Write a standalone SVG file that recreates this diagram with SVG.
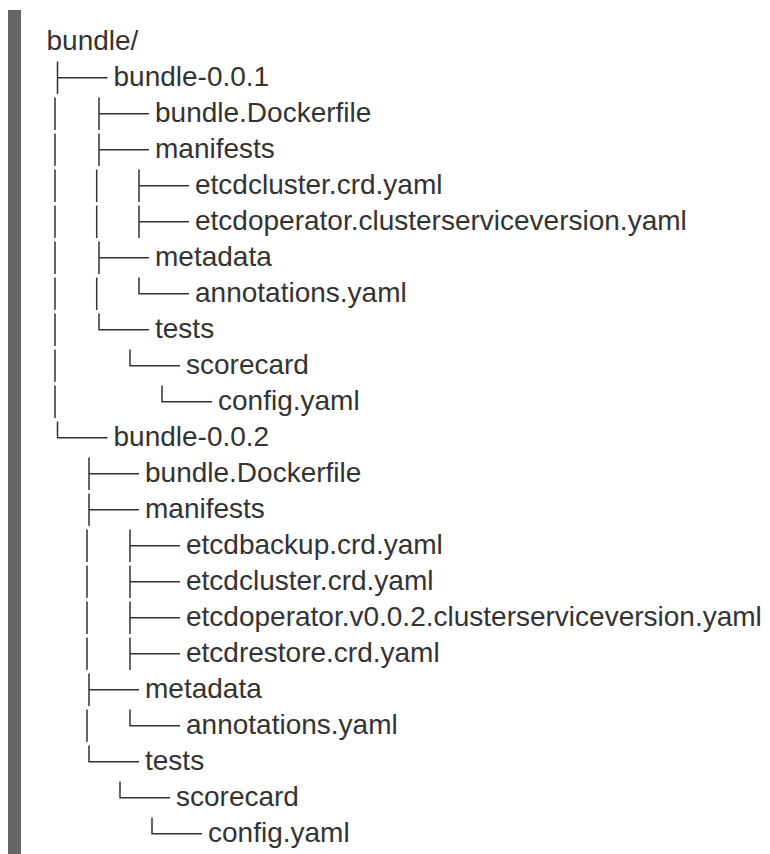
<svg xmlns="http://www.w3.org/2000/svg" width="770" height="854" viewBox="0 0 770 854">
<style>
text{font-family:"Liberation Sans",Arial,Helvetica,sans-serif;font-size:28px;fill:#333}
.c path{fill:none;stroke:#333;stroke-width:1.5}
.c .d{stroke-dasharray:32.5 3.5}
</style>
<rect x="0" y="0" width="770" height="854" fill="#fff"/>
<rect id="bar" x="8" y="10" width="13" height="844" fill="#666"/>
<g id="connectors" class="c">
<path class="d" d="M55 97.5V418"/>
<path class="d" d="M96.7 169.5V238"/>
<path d="M96.7 277.5V310"/>
<path class="d" d="M87 529.5V670"/>
<path d="M87 709.5V742"/>
<path d="M57.5 61.5V94M57.5 77.7H107.5"/>
<path d="M99 97.5V130M99 113.7H149"/>
<path d="M99 133.5V166M99 149.7H149"/>
<path d="M139 169.5V202M139 185.7H189"/>
<path d="M139 205.5V238M139 221.7H189"/>
<path d="M99 241.5V274M99 257.7H149"/>
<path d="M139 277.5V293.7H189"/>
<path d="M99 313.5V329.7H149"/>
<path d="M130 349.5V365.7H180"/>
<path d="M162 385.5V401.7H212"/>
<path d="M57.5 421.5V437.7H107.5"/>
<path d="M89 457.5V490M89 473.7H139"/>
<path d="M89 493.5V526M89 509.7H139"/>
<path d="M130 529.5V562M130 545.7H180"/>
<path d="M130 565.5V598M130 581.7H180"/>
<path d="M130 601.5V634M130 617.7H180"/>
<path d="M130 637.5V670M130 653.7H180"/>
<path d="M89 673.5V706M89 689.7H139"/>
<path d="M130 709.5V725.7H180"/>
<path d="M89 745.5V761.7H139"/>
<path d="M120 781.5V797.7H170"/>
<path d="M152 817.5V833.7H202"/>
</g>
<g id="n0"><text x="46.5" y="50">bundle/</text></g>
<g id="n1"><text x="113.5" y="86">bundle-0.0.1</text></g>
<g id="n2"><text x="155" y="122">bundle.Dockerfile</text></g>
<g id="n3"><text x="155" y="158">manifests</text></g>
<g id="n4"><text x="195" y="194">etcdcluster.crd.yaml</text></g>
<g id="n5"><text x="195" y="230">etcdoperator.clusterserviceversion.yaml</text></g>
<g id="n6"><text x="155" y="266">metadata</text></g>
<g id="n7"><text x="195" y="302">annotations.yaml</text></g>
<g id="n8"><text x="155" y="338">tests</text></g>
<g id="n9"><text x="186" y="374">scorecard</text></g>
<g id="n10"><text x="218" y="410">config.yaml</text></g>
<g id="n11"><text x="113.5" y="446">bundle-0.0.2</text></g>
<g id="n12"><text x="145" y="482">bundle.Dockerfile</text></g>
<g id="n13"><text x="145" y="518">manifests</text></g>
<g id="n14"><text x="186" y="554">etcdbackup.crd.yaml</text></g>
<g id="n15"><text x="186" y="590">etcdcluster.crd.yaml</text></g>
<g id="n16"><text x="186" y="626">etcdoperator.v0.0.2.clusterserviceversion.yaml</text></g>
<g id="n17"><text x="186" y="662">etcdrestore.crd.yaml</text></g>
<g id="n18"><text x="145" y="698">metadata</text></g>
<g id="n19"><text x="186" y="734">annotations.yaml</text></g>
<g id="n20"><text x="145" y="770">tests</text></g>
<g id="n21"><text x="176" y="806">scorecard</text></g>
<g id="n22"><text x="208" y="842">config.yaml</text></g>
</svg>
